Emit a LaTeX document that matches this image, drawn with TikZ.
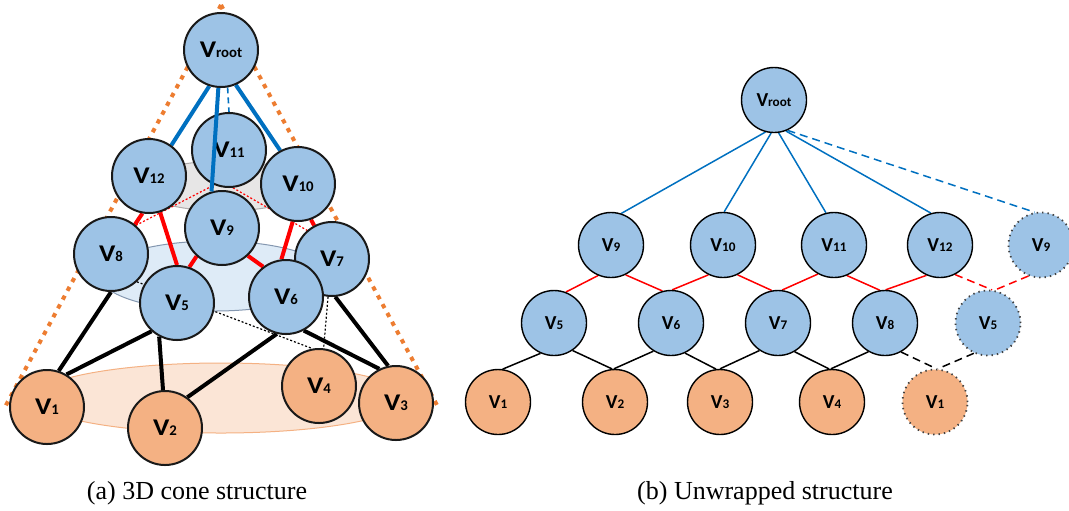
\documentclass[tikz,border=0pt]{standalone}
\usepackage{graphicx}
\usepackage{fontspec}
\setmainfont{Liberation Serif}
\newfontfamily\labfont{Carlito}

\definecolor{nodeblue}{HTML}{9DC3E6}
\definecolor{nodeorange}{HTML}{F4B183}
\definecolor{lineblue}{HTML}{0070C0}
\definecolor{coneorange}{HTML}{ED7D31}
\definecolor{ringgray}{HTML}{E7E6E6}
\definecolor{ringgrayedge}{HTML}{AFABAB}
\definecolor{ringblue}{HTML}{DEEBF7}
\definecolor{ringblueedge}{HTML}{8497B0}
\definecolor{ringorange}{HTML}{FBE5D6}
\definecolor{ringorangeedge}{HTML}{F4B183}

% vertex labels: big V with a small index on the same baseline
\newcommand\vconelab[1]{\scalebox{1.15}[1]{\fontsize{12}{13}\selectfont V}{\fontsize{7.4}{8}\selectfont #1}}
\newcommand\vflatlab[1]{{\fontsize{9.9}{10}\selectfont V}{\fontsize{6.6}{7}\selectfont #1}}

\pgfdeclarelayer{back}
\pgfdeclarelayer{edges}
\pgfsetlayers{back,edges,main}

\tikzset{
  conenode/.style={circle, draw=black!90, line width=1pt, minimum size=37pt,
    inner sep=0pt, font=\labfont\bfseries},
  flatnode/.style={circle, draw=black, line width=0.7pt, minimum size=32.5pt,
    inner sep=0pt, font=\labfont\bfseries},
  upper/.style={fill=nodeblue},
  lower/.style={fill=nodeorange},
  ghost/.style={draw=black!75, dotted, line width=0.9pt},
  % 3D cone edges
  spoke/.style={lineblue, line width=2pt},
  rung/.style={red, line width=2pt},
  leg/.style={black, line width=2pt},
  hidspoke/.style={lineblue, line width=0.8pt, dash pattern=on 3pt off 2pt},
  hidrung/.style={red, line width=0.6pt, dash pattern=on 1pt off 1pt},
  hidleg/.style={black, line width=0.6pt, dash pattern=on 1pt off 1pt},
  cone/.style={coneorange, line width=2pt, dash pattern=on 2.2pt off 2.8pt},
  % unwrapped edges
  fspoke/.style={lineblue, line width=0.75pt},
  frung/.style={red, line width=0.75pt},
  fleg/.style={black, line width=0.75pt},
  wrap/.style={dash pattern=on 4pt off 2.5pt},
  caption/.style={font=\fontsize{13}{15}\selectfont}
}

\begin{document}
\begin{tikzpicture}[x=0.5pt, y=-0.5pt]
\useasboundingbox (0,0) rectangle (1069,510);

% ---------------- (a) 3D cone ----------------
\begin{pgfonlayer}{back}
  \fill[ringorange, draw=ringorangeedge, line width=0.5pt] (221,398) ellipse [x radius=186, y radius=35];
  \fill[ringblue, draw=ringblueedge, line width=0.5pt] (215,276) ellipse [x radius=115, y radius=35];
  \fill[ringgray, draw=ringgrayedge, line width=0.5pt] (224,186) ellipse [x radius=85, y radius=25];
  \coordinate (apex) at (221,5);
  \coordinate (baseL) at (5,407);
  \coordinate (baseR) at (438,407);
  \draw[cone] (apex) -- (baseL);
  \draw[cone] (apex) -- (baseR);
\end{pgfonlayer}

\node[conenode, upper] (aroot) at (221,50) {\vconelab{root}};
\node[conenode, upper] (a11) at (229,150) {\vconelab{11}};
\node[conenode, upper] (a12) at (149,176) {\vconelab{12}};
\node[conenode, upper] (a10) at (298,184) {\vconelab{10}};
\node[conenode, upper] (a9)  at (222,228) {\vconelab{9}};
\node[conenode, upper] (a8)  at (111,254) {\vconelab{8}};
\node[conenode, upper] (a7)  at (332,259) {\vconelab{7}};
\node[conenode, upper] (a5)  at (177,303) {\vconelab{5}};
\node[conenode, upper] (a6)  at (286,297) {\vconelab{6}};
\node[conenode, lower] (a4)  at (319,386) {\vconelab{4}};
\node[conenode, lower] (a1)  at (47,407)  {\vconelab{1}};
\node[conenode, lower] (a3)  at (396,403) {\vconelab{3}};
\node[conenode, lower] (a2)  at (165,428) {\vconelab{2}};

\begin{pgfonlayer}{edges}
  \draw[spoke] (aroot.-108) -- (a12.54);
  \draw[spoke] (aroot.-67) -- (a10.118);
  \draw[hidspoke] (aroot.-80) -- (a11.90);
  \draw[rung] (a12.-100) -- (a8.51);
  \draw[rung] (a12.-73) -- (a5.90);
  \draw[rung] (a9.-132) -- (a5.71);
  \draw[rung] (a9.-47) -- (a6.127);
  \draw[rung] (a10.-98) -- (a6.97);
  \draw[rung] (a10.-70) -- (a7.118);
  \draw[hidrung] (a8.49) -- (a11.-113);
  \draw[hidrung] (a11.-84) -- (a7.131);
  \draw[leg] (a8.-90) -- (a1.72);
  \draw[leg] (a5.-132) -- (a1.59);
  \draw[leg] (a5.-118) -- (a2.93);
  \draw[leg] (a6.-104) -- (a2.54);
  \draw[leg] (a6.-62) -- (a3.116);
  \draw[leg] (a7.-85) -- (a3.102);
  \draw[hidleg] (a8.-47) -- (a4.100);
  \draw[hidleg] (a7.-96) -- (a4.83);
\end{pgfonlayer}
% the front spoke runs over V11
\draw[spoke] (aroot.-94) -- (a9.106);

% ---------------- (b) unwrapped ----------------
\node[flatnode, upper] (broot) at (774,100) {\vflatlab{root}};
\node[flatnode, upper] (b9)  at (611,245) {\vflatlab{9}};
\node[flatnode, upper] (b10) at (723,245) {\vflatlab{10}};
\node[flatnode, upper] (b11) at (834,245) {\vflatlab{11}};
\node[flatnode, upper] (b12) at (940,245) {\vflatlab{12}};
\node[flatnode, upper, ghost] (b9c) at (1041,245) {\vflatlab{9}};
\node[flatnode, upper] (b5)  at (554,323) {\vflatlab{5}};
\node[flatnode, upper] (b6)  at (671,323) {\vflatlab{6}};
\node[flatnode, upper] (b7)  at (778,323) {\vflatlab{7}};
\node[flatnode, upper] (b8)  at (885,323) {\vflatlab{8}};
\node[flatnode, upper, ghost] (b5c) at (988,323) {\vflatlab{5}};
\node[flatnode, lower] (b1)  at (498,402) {\vflatlab{1}};
\node[flatnode, lower] (b2)  at (615,402) {\vflatlab{2}};
\node[flatnode, lower] (b3)  at (720,402) {\vflatlab{3}};
\node[flatnode, lower] (b4)  at (832,402) {\vflatlab{4}};
\node[flatnode, lower, ghost] (b1c) at (935,402) {\vflatlab{1}};

\begin{pgfonlayer}{edges}
  \draw[fspoke] (broot.-105) -- (b9.72);
  \draw[fspoke] (broot.-95) -- (b10.88);
  \draw[fspoke] (broot.-82) -- (b11.104);
  \draw[fspoke] (broot.-69) -- (b12.106);
  \draw[fspoke, wrap] (broot.-66) -- (b9c.101);
  \draw[frung] (b9.-113) -- (b5.69);
  \draw[frung] (b9.-64) -- (b6.105);
  \draw[frung] (b10.-116) -- (b6.88);
  \draw[frung] (b10.-64) -- (b7.101);
  \draw[frung] (b11.-119) -- (b7.83);
  \draw[frung] (b11.-67) -- (b8.99);
  \draw[frung] (b12.-114) -- (b8.89);
  \draw[frung, wrap] (b12.-63) -- (b5c.83);
  \draw[frung, wrap] (b9c.-112) -- (b5c.79);
  \draw[fleg] (b5.-114) -- (b1.82);
  \draw[fleg] (b5.-56) -- (b2.95);
  \draw[fleg] (b6.-122) -- (b2.92);
  \draw[fleg] (b6.-65) -- (b3.97);
  \draw[fleg] (b7.-124) -- (b3.90);
  \draw[fleg] (b7.-60) -- (b4.95);
  \draw[fleg] (b8.-120) -- (b4.92);
  \draw[fleg, wrap] (b8.-61) -- (b1c.88);
  \draw[fleg, wrap] (b5c.-115) -- (b1c.85);
\end{pgfonlayer}

% ---------------- captions ----------------
\node[caption] (capa) at (197,493) {(a) 3D cone structure};
\node[caption] (capb) at (765,493) {(b) Unwrapped structure};
\end{tikzpicture}
\end{document}
